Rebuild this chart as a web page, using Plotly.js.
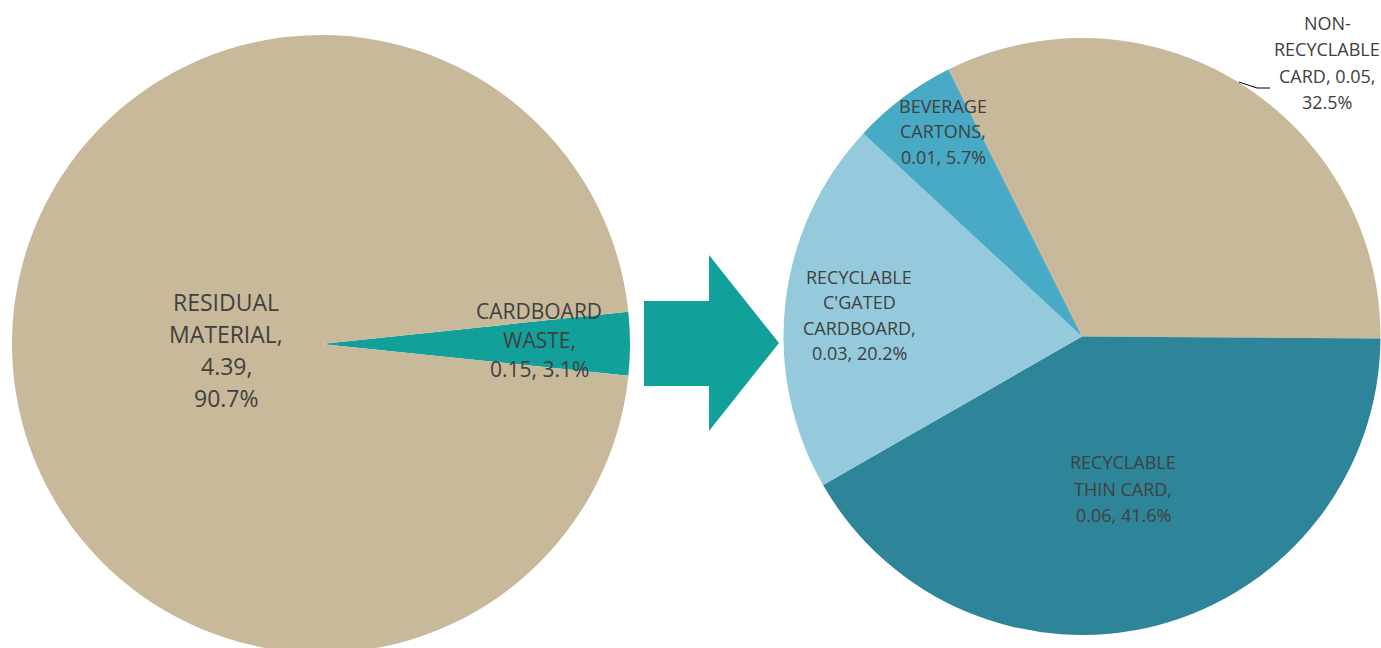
<!DOCTYPE html>
<html>
<head>
<meta charset="utf-8">
<script src="https://cdn.plot.ly/plotly-3.0.1.min.js"></script>
<style>
  html, body { margin: 0; padding: 0; background: #ffffff; overflow: hidden; }
  #chart { width: 1381px; height: 700px; }
</style>
</head>
<body>
<div id="chart"></div>
<script>
// ---------- DATA ----------
const leftCategories = ["CARDBOARD\nWASTE", "RESIDUAL\nMATERIAL"];
const leftWeights = ["0.15", "4.39"];
const leftShares = [3.1, 90.7];

const rightCategories = ["NON-\nRECYCLABLE\nCARD", "RECYCLABLE\nTHIN CARD", "RECYCLABLE\nC'GATED\nCARDBOARD", "BEVERAGE\nCARTONS"];
const rightWeights = ["0.05", "0.06", "0.03", "0.01"];
const rightShares = [32.5, 41.6, 20.2, 5.7];

// separators used when wrapping "category, weight, share%" labels
const leftSepA = [",\n", ",\n"];
const leftSepB = [", ", ",\n"];
const rightSepA = [", ", ",\n", ",\n", ",\n"];
const rightSepB = [",\n", ", ", ", ", ", "];

// ---------- STYLE / LAYOUT ----------
const W = 1381, H = 700;
const BEIGE = "#C9B99B", TEAL = "#12A19A";
const leftColors = [TEAL, BEIGE];
const rightColors = [BEIGE, "#2E8499", "#94CADB", "#48AAC5"];
const TEXT_COLOR = "#404040";
const FONT = "Open Sans, Noto Sans, sans-serif";

// label centres (pixels) and typography
const leftLabelPos = [{x: 539, y: 340, gap: 29, size: 21}, {x: 226, y: 350, gap: 32, size: 23}];
const rightLabelPos = [
  {x: 1327, y: 62.5, gap: 26.3, size: 18},
  {x: 1123, y: 488.5, gap: 26.5, size: 18},
  {x: 859, y: 315, gap: 25.3, size: 18},
  {x: 943, y: 131.5, gap: 25.5, size: 18}
];

const px = x => x / W;
const py = y => 1 - y / H;

function labelLines(cats, weights, shares, sepA, sepB) {
  return cats.map((c, i) => (c + sepA[i] + weights[i] + sepB[i] + shares[i] + "%").split("\n"));
}

function makeAnnotations(lines, pos) {
  const out = [];
  lines.forEach((ls, i) => {
    const p = pos[i];
    ls.forEach((t, j) => {
      out.push({
        xref: "paper", yref: "paper",
        x: px(p.x), y: py(p.y + (j - (ls.length - 1) / 2) * p.gap),
        xanchor: "center", yanchor: "middle",
        text: t, showarrow: false,
        font: {family: FONT, size: p.size, color: TEXT_COLOR}
      });
    });
  });
  return out;
}

const leftPie = {
  type: "pie",
  labels: leftCategories.map(c => c.replace(/\n/g, " ")),
  values: leftShares,
  sort: false,
  direction: "clockwise",
  rotation: 84,
  textinfo: "none",
  hoverinfo: "label+value",
  marker: {colors: leftColors, line: {width: 0}},
  domain: {x: [px(12), px(630)], y: [py(653), py(35)]},
  showlegend: false
};

const rightPie = {
  type: "pie",
  labels: rightCategories.map(c => c.replace(/\n/g, " ")),
  values: rightShares,
  sort: false,
  direction: "clockwise",
  rotation: -26.6,
  textinfo: "none",
  hoverinfo: "label+value",
  marker: {colors: rightColors, line: {width: 0}},
  domain: {x: [px(783.5), px(1380.5)], y: [py(635), py(38)]},
  showlegend: false
};

const annotations = [].concat(
  makeAnnotations(labelLines(leftCategories, leftWeights, leftShares, leftSepA, leftSepB), leftLabelPos),
  makeAnnotations(labelLines(rightCategories, rightWeights, rightShares, rightSepA, rightSepB), rightLabelPos)
);

// arrow between the pies and leader line (decorations)
const arrowPts = [[644, 301], [709, 301], [709, 255], [779, 343], [709, 431], [709, 386], [644, 386]];
const arrowPath = "M " + arrowPts.map(p => px(p[0]) + "," + py(p[1])).join(" L ") + " Z";
const leaderPts = [[1239, 82], [1257, 88], [1270, 88]];
const leaderPath = "M " + leaderPts.map(p => px(p[0]) + "," + py(p[1])).join(" L ");

const layout = {
  width: W, height: H,
  margin: {l: 0, r: 0, t: 0, b: 0},
  paper_bgcolor: "#ffffff",
  plot_bgcolor: "#ffffff",
  showlegend: false,
  annotations: annotations,
  shapes: [
    {type: "path", xref: "paper", yref: "paper", path: arrowPath, fillcolor: TEAL, line: {width: 0}},
    {type: "path", xref: "paper", yref: "paper", path: leaderPath, line: {color: "#000000", width: 1}}
  ]
};

Plotly.newPlot("chart", [leftPie, rightPie], layout, {displayModeBar: false, staticPlot: true});
</script>
</body>
</html>
